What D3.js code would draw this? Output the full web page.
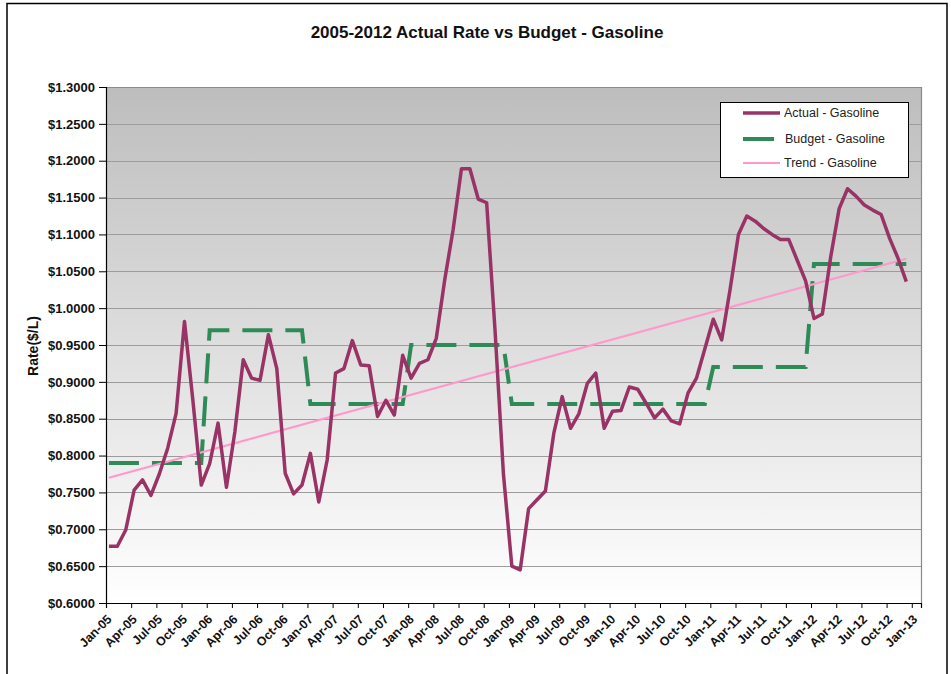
<!DOCTYPE html>
<html>
<head>
<meta charset="utf-8">
<script src="https://cdn.jsdelivr.net/npm/d3@7"></script>
<style>
    body { margin: 0; background: #fff; }
    text { font-family: "Liberation Sans", Arial, sans-serif; }
</style>
</head>
<body>
<div id="container"></div>
<script>
// monthly actual rate, Jan-05 .. Dec-12
const actual = [
    0.677, 0.677, 0.699, 0.753, 0.767, 0.746, 0.775, 0.810, 0.857, 0.982, 0.875, 0.760,
    0.789, 0.844, 0.757, 0.832, 0.930, 0.905, 0.902, 0.964, 0.918, 0.776, 0.748, 0.760,
    0.803, 0.737, 0.794, 0.912, 0.918, 0.956, 0.923, 0.922, 0.853, 0.875, 0.855, 0.936,
    0.905, 0.925, 0.930, 0.959, 1.038, 1.106, 1.189, 1.189, 1.148, 1.143, 0.970, 0.775,
    0.650, 0.645, 0.728, 0.740, 0.752, 0.830, 0.880, 0.837, 0.857, 0.898, 0.912, 0.837,
    0.860, 0.861, 0.893, 0.890, 0.871, 0.851, 0.863, 0.847, 0.843, 0.885, 0.905, 0.945,
    0.985, 0.957, 1.025, 1.100, 1.125, 1.118, 1.108, 1.100, 1.093, 1.093, 1.065, 1.037,
    0.986, 0.992, 1.070, 1.135, 1.162, 1.152, 1.140, 1.133, 1.127, 1.095, 1.068, 1.036
];

// yearly budget rate, applied to each month of the year
const budgetYears = [2005, 2006, 2007, 2008, 2009, 2010, 2011, 2012];
const budgetRates = [0.79, 0.97, 0.87, 0.95, 0.87, 0.87, 0.92, 1.06];

// trend line end points (month index, rate)
const trendMonths = [0, 95];
const trendRates = [0.770, 1.067];

const tickLabels = [
    'Jan-05', 'Apr-05', 'Jul-05', 'Oct-05', 'Jan-06', 'Apr-06', 'Jul-06', 'Oct-06',
    'Jan-07', 'Apr-07', 'Jul-07', 'Oct-07', 'Jan-08', 'Apr-08', 'Jul-08', 'Oct-08',
    'Jan-09', 'Apr-09', 'Jul-09', 'Oct-09', 'Jan-10', 'Apr-10', 'Jul-10', 'Oct-10',
    'Jan-11', 'Apr-11', 'Jul-11', 'Oct-11', 'Jan-12', 'Apr-12', 'Jul-12', 'Oct-12',
    'Jan-13'
];
const yTicks = [0.60, 0.65, 0.70, 0.75, 0.80, 0.85, 0.90, 0.95, 1.00, 1.05, 1.10, 1.15, 1.20, 1.25, 1.30];

const legendItems = ['Actual - Gasoline', 'Budget - Gasoline', 'Trend - Gasoline'];

const width = 951;
const height = 674;
const plot = { left: 106, right: 921, top: 87, bottom: 603 };

const svg = d3.select('#container')
              .append('svg')
              .attr('width', width)
              .attr('height', height);

// outer chart border
svg.append('rect')
   .attr('x', 7).attr('y', 3.5)
   .attr('width', 940).attr('height', 700)
   .attr('fill', '#fff')
   .attr('stroke', '#000')
   .attr('stroke-width', 1.5);

const x = d3.scaleLinear().domain([0, 97.1]).range([plot.left, plot.right]);
const y = d3.scaleLinear().domain([0.6, 1.3]).range([plot.bottom, plot.top]);
const off = 0.35; // points sit a bit after the start of their month

const defs = svg.append('defs');
const grad = defs.append('linearGradient')
                 .attr('id', 'bg')
                 .attr('x1', 0).attr('y1', 0).attr('x2', 0).attr('y2', 1);
grad.append('stop').attr('offset', '0%').attr('stop-color', '#bdbdbd');
grad.append('stop').attr('offset', '100%').attr('stop-color', '#ffffff');

svg.append('rect')
   .attr('x', plot.left).attr('y', plot.top)
   .attr('width', plot.right - plot.left)
   .attr('height', plot.bottom - plot.top)
   .attr('fill', 'url(#bg)');

// gridlines
svg.append('g')
   .selectAll('line')
   .data(yTicks.slice(1))
   .enter()
   .append('line')
   .attr('x1', plot.left).attr('x2', plot.right)
   .attr('y1', d => Math.round(y(d)) + 0.5)
   .attr('y2', d => Math.round(y(d)) + 0.5)
   .attr('stroke', '#9c9c9c')
   .attr('stroke-width', 1);

// plot border (right and top)
svg.append('path')
   .attr('d', `M${plot.left},${plot.top + 0.5}H${plot.right + 0.5}V${plot.bottom}`)
   .attr('fill', 'none')
   .attr('stroke', '#8a8a8a')
   .attr('stroke-width', 1.2);

// axes
const yAxis = d3.axisLeft(y)
                .tickValues(yTicks)
                .tickSize(7)
                .tickPadding(4)
                .tickFormat(d => '$' + d.toFixed(4));
const gy = svg.append('g')
              .attr('transform', `translate(${plot.left},0)`)
              .call(yAxis);
gy.select('.domain').attr('stroke', '#000').attr('stroke-width', 1.2);
gy.selectAll('.tick line').attr('stroke', '#000');
gy.selectAll('.tick text')
  .attr('font-size', '13px')
  .attr('font-weight', 'bold')
  .attr('fill', '#111')
  .style('font-family', '"Liberation Sans", Arial, sans-serif');

const xAxis = d3.axisBottom(x)
                .tickValues(tickLabels.map((d, i) => i * 3))
                .tickSize(5)
                .tickFormat((d, i) => tickLabels[i]);
const gx = svg.append('g')
              .attr('transform', `translate(0,${plot.bottom})`)
              .call(xAxis);
gx.select('.domain').attr('stroke', '#000').attr('stroke-width', 1.2);
gx.selectAll('.tick line').attr('stroke', '#000');
gx.selectAll('.tick text')
  .attr('font-size', '12.5px')
  .attr('font-weight', 'bold')
  .attr('fill', '#111')
  .style('font-family', '"Liberation Sans", Arial, sans-serif')
  .attr('text-anchor', 'end')
  .attr('y', 0).attr('dy', 0)
  .attr('transform', 'translate(6,17) rotate(-45)');

// budget
const budgetMonthly = [];
budgetYears.forEach((yr, k) => {
    for (let m = 0; m < 12; m++) budgetMonthly.push(budgetRates[k]);
});
const line = d3.line().x((d, i) => x(i + off)).y(d => y(d));

svg.append('path')
   .datum(budgetMonthly)
   .attr('d', line)
   .attr('fill', 'none')
   .attr('stroke', '#2e8b57')
   .attr('stroke-width', 4)
   .attr('stroke-dasharray', '30,13');

// trend
svg.append('path')
   .datum(trendMonths.map((m, i) => [m, trendRates[i]]))
   .attr('d', d3.line().x(d => x(d[0] + off)).y(d => y(d[1])))
   .attr('fill', 'none')
   .attr('stroke', '#ff99cc')
   .attr('stroke-width', 2.2);

// actual
svg.append('path')
   .datum(actual)
   .attr('d', line)
   .attr('fill', 'none')
   .attr('stroke', '#993366')
   .attr('stroke-width', 3.5)
   .attr('stroke-linejoin', 'round');

// title
svg.append('text')
   .attr('x', 487).attr('y', 38)
   .attr('text-anchor', 'middle')
   .attr('font-size', '17px')
   .attr('font-weight', 'bold')
   .attr('fill', '#111')
   .text('2005-2012 Actual Rate vs Budget - Gasoline');

// y title
svg.append('text')
   .attr('transform', 'translate(38,346) rotate(-90)')
   .attr('text-anchor', 'middle')
   .attr('font-size', '14px')
   .attr('font-weight', 'bold')
   .attr('fill', '#111')
   .text('Rate($/L)');

// legend
const legend = svg.append('g');
legend.append('rect')
      .attr('x', 720.5).attr('y', 102.5)
      .attr('width', 188).attr('height', 75)
      .attr('fill', '#fff')
      .attr('stroke', '#000')
      .attr('stroke-width', 1);

const rowY = [113, 139, 163];
const swatch = [
    { stroke: '#993366', width: 3.5 },
    { stroke: '#2e8b57', width: 4 },
    { stroke: '#ff99cc', width: 2.2 }
];
legend.selectAll('line')
      .data(legendItems)
      .enter()
      .append('line')
      .attr('x1', 743)
      .attr('x2', (d, i) => i === 1 ? 774 : 780)
      .attr('y1', (d, i) => rowY[i])
      .attr('y2', (d, i) => rowY[i])
      .attr('stroke', (d, i) => swatch[i].stroke)
      .attr('stroke-width', (d, i) => swatch[i].width);
legend.selectAll('text')
      .data(legendItems)
      .enter()
      .append('text')
      .attr('x', (d, i) => i === 1 ? 785 : 784)
      .attr('y', (d, i) => rowY[i])
      .attr('dy', '0.35em')
      .attr('font-size', '12.5px')
      .attr('fill', '#222')
      .text(d => d);
</script>
</body>
</html>
